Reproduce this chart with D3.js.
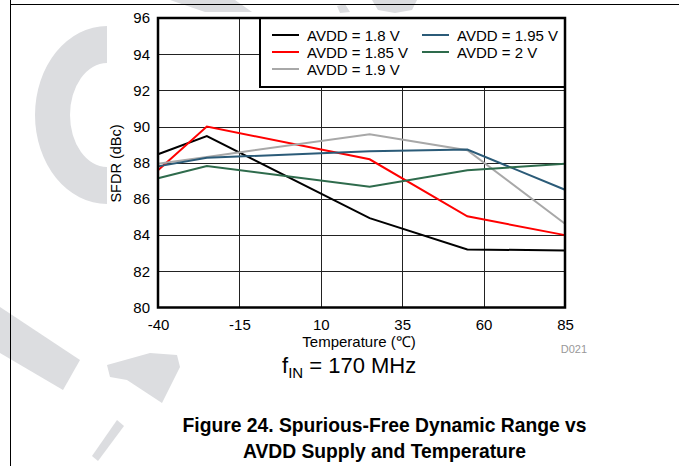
<!DOCTYPE html>
<html><head><meta charset="utf-8">
<script src="https://cdn.jsdelivr.net/npm/d3@7"></script>
<style>body{margin:0;background:#fff}svg{display:block;font-family:"Liberation Sans",Arial,sans-serif}</style>
</head><body><svg id="c" width="679" height="466"></svg>
<script>
const temps = [-40, -25, 25, 55, 85];
const avdd180 = [88.47, 89.47, 84.94, 83.21, 83.15];
const avdd185 = [87.58, 90.0, 88.19, 85.04, 84.0];
const avdd190 = [87.95, 88.32, 89.58, 88.69, 84.63];
const avdd195 = [87.8, 88.27, 88.64, 88.73, 86.51];
const avdd200 = [87.14, 87.82, 86.68, 87.58, 87.95];
const seriesNames = ["AVDD = 1.8 V", "AVDD = 1.85 V", "AVDD = 1.9 V", "AVDD = 1.95 V", "AVDD = 2 V"];
const seriesColors = ["#000000", "#ff0000", "#a8a8a8", "#2b5b78", "#2e6b4c"];
const xTicks = [-40, -15, 10, 35, 60, 85];
const yTicks = [80, 82, 84, 86, 88, 90, 92, 94, 96];
const seriesValues = [avdd180, avdd185, avdd190, avdd195, avdd200];

const svg = d3.select("#c");
const wm = "#dcdde0";
// watermark remnants
const wmg = svg.append("g").attr("fill", wm);
wmg.append("path").attr("d", "M107,26 A72,89 0 0 0 107,204 L107,167 A37,52 0 0 1 107,63 Z");
wmg.append("polygon").attr("points", "0,307 80,360 63,390 0,353");
wmg.append("polygon").attr("points", "107,365 150,353 177,355 180,367 162,403 127,380 110,377");
wmg.append("polygon").attr("points", "117,420 124,426 98,461 92,456");
wmg.append("polygon").attr("points", "170,0 235,0 252,12 205,12");
wmg.append("polygon").attr("points", "337,6 345,4 350,12 340,13");
wmg.append("polygon").attr("points", "372,0 417,0 412,10 395,13 378,10");

// page frame lines
svg.append("line").attr("x1", 10).attr("x2", 679).attr("y1", 4.5).attr("y2", 4.5).attr("stroke", "#000");
svg.append("line").attr("x1", 10.5).attr("x2", 10.5).attr("y1", 0).attr("y2", 466).attr("stroke", "#000");

const x = d3.scaleLinear().domain([-40, 85]).range([158, 565]);
const y = d3.scaleLinear().domain([80, 96]).range([307.5, 18]);

// grid
const grid = svg.append("g").attr("stroke", "#222").attr("stroke-width", 1);
grid.selectAll(".h").data(yTicks.slice(1, -1)).join("line")
  .attr("x1", 158).attr("x2", 565).attr("y1", d => Math.round(y(d)) + 0.5).attr("y2", d => Math.round(y(d)) + 0.5);
grid.selectAll(".v").data(xTicks.slice(1, -1)).join("line")
  .attr("y1", 18).attr("y2", 307.5).attr("x1", d => Math.round(x(d)) + 0.5).attr("x2", d => Math.round(x(d)) + 0.5);

// series lines
const line = d3.line().x((d, i) => x(temps[i])).y(d => y(d));
svg.append("g").selectAll("path").data(seriesValues).join("path")
  .attr("d", line).attr("fill", "none")
  .attr("stroke", (d, i) => seriesColors[i]).attr("stroke-width", 2).attr("stroke-linejoin", "miter");

// legend
const lg = svg.append("g");
lg.append("rect").attr("x", 260).attr("y", 18).attr("width", 305).attr("height", 69)
  .attr("fill", "#fff").attr("stroke", "#000").attr("stroke-width", 2);
const legPos = [[272, 35], [272, 52], [272, 69], [422, 35], [422, 52]];
seriesNames.forEach((n, i) => {
  const [lx, ly] = legPos[i];
  lg.append("line").attr("x1", lx).attr("x2", lx + 27).attr("y1", ly).attr("y2", ly)
    .attr("stroke", seriesColors[i]).attr("stroke-width", 2);
  lg.append("text").attr("x", lx + 35).attr("y", ly + 5.5).attr("font-size", 15).text(n);
});

// plot border
svg.append("rect").attr("x", 158).attr("y", 18).attr("width", 407).attr("height", 289.5)
  .attr("fill", "none").attr("stroke", "#000").attr("stroke-width", 2.5);

// axes
const ya = svg.append("g").attr("transform", "translate(158,0)")
  .call(d3.axisLeft(y).tickValues(yTicks).tickSize(0).tickPadding(8).tickFormat(d => String(d)));
ya.select(".domain").remove();
ya.selectAll("text").attr("font-size", 15).attr("fill", "#000").attr("font-family", "Liberation Sans, Arial, sans-serif");
const xa = svg.append("g").attr("transform", "translate(0,307.5)")
  .call(d3.axisBottom(x).tickValues(xTicks).tickSize(0).tickPadding(12).tickFormat(d => String(d)));
xa.select(".domain").remove();
xa.selectAll("text").attr("font-size", 15).attr("fill", "#000").attr("font-family", "Liberation Sans, Arial, sans-serif");

// axis titles
svg.append("text").attr("transform", "translate(121,163.5) rotate(-90)").attr("text-anchor", "middle")
  .attr("font-size", 14.5).text("SFDR (dBc)");
svg.append("text").attr("x", 359).attr("y", 347).attr("text-anchor", "middle")
  .attr("font-size", 15).text("Temperature (\u2103)");
svg.append("text").attr("x", 587).attr("y", 352.5).attr("text-anchor", "end")
  .attr("font-size", 11).attr("fill", "#999").text("D021");

// fIN
const f = svg.append("text").attr("x", 282).attr("y", 373).attr("font-size", 22);
f.append("tspan").text("f");
f.append("tspan").attr("font-size", 15).attr("dy", 5).text("IN");
f.append("tspan").attr("dy", -5).text(" = 170 MHz");

// caption
svg.append("text").attr("x", 384.5).attr("y", 432).attr("text-anchor", "middle")
  .attr("font-size", 19.3).attr("font-weight", "bold").text("Figure 24. Spurious-Free Dynamic Range vs");
svg.append("text").attr("x", 384.5).attr("y", 458).attr("text-anchor", "middle")
  .attr("font-size", 19.3).attr("font-weight", "bold").text("AVDD Supply and Temperature");
</script></body></html>
